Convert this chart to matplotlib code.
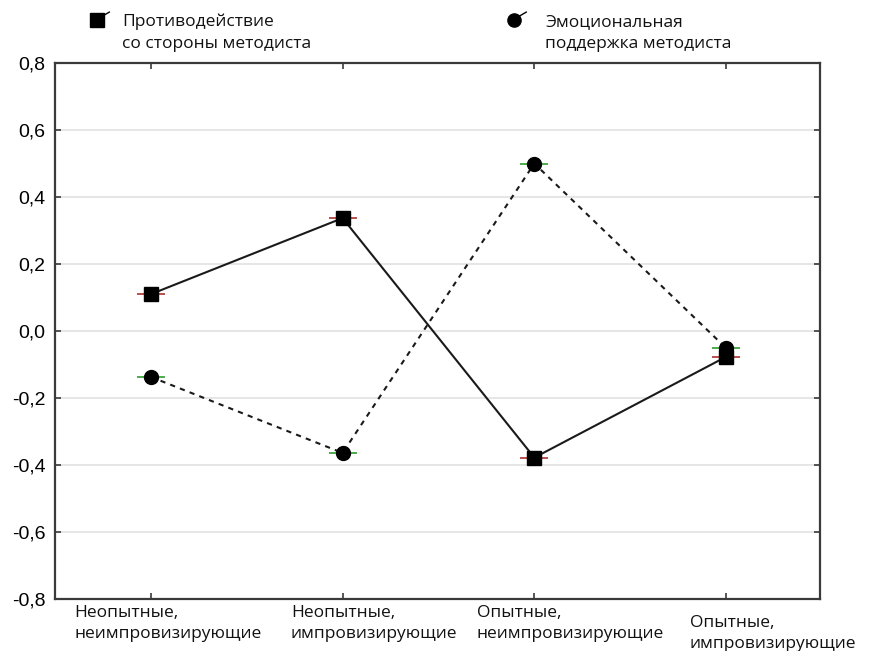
import numpy as np
import matplotlib.pyplot as plt
from matplotlib.transforms import blended_transform_factory

plt.rcParams['font.family'] = ['Open Sans', 'DejaVu Sans']

groups = ["Неопытные,\nнеимпровизирующие", "Неопытные,\nимпровизирующие",
          "Опытные,\nнеимпровизирующие", "Опытные,\nимпровизирующие"]
resistance = [0.110, 0.337, -0.378, -0.077]
support = [-0.137, -0.364, 0.500, -0.051]
series_names = ["Противодействие\nсо стороны методиста",
                "Эмоциональная\nподдержка методиста"]
yticks = [-0.8, -0.6, -0.4, -0.2, 0.0, 0.2, 0.4, 0.6, 0.8]

x = np.arange(len(groups))
spine_col = "#3a3a3a"

fig = plt.figure(figsize=(8.81, 6.51), dpi=100)
ax = fig.add_axes([0.0624, 0.0799, 0.8684, 0.8233])

for yv in yticks[1:-1]:
    ax.axhline(yv, color="#e2e2e2", lw=1.2, zorder=0)

# small horizontal whiskers behind the markers
ax.plot(x, resistance, ls="none", marker="_", ms=20, mew=1.2, color="#b03030", zorder=2)
ax.plot(x, support, ls="none", marker="_", ms=20, mew=1.2, color="#2ca02c", zorder=2)

ax.plot(x, resistance, color="#1a1a1a", lw=1.5, marker="s", ms=10,
        mfc="black", mec="black", zorder=3)
ax.plot(x, support, color="#1a1a1a", lw=1.5, ls=(0, (2.5, 2.5)), marker="o", ms=10,
        mfc="black", mec="black", zorder=3)

ax.set_xlim(-0.5, 3.49)
ax.set_ylim(-0.8, 0.8)
ax.set_yticks(yticks)
ax.set_yticklabels([f"{v:.1f}".replace(".", ",") for v in yticks], fontsize=14,
                   family=['Liberation Sans', 'DejaVu Sans'])
ax.set_xticks(x)
ax.set_xticklabels([])
ax.tick_params(axis="both", direction="in", length=4, width=1.2, color=spine_col,
               top=True, right=True, pad=7)
for s in ax.spines.values():
    s.set_color(spine_col)
    s.set_linewidth(1.6)

# category labels under the axis
trans = blended_transform_factory(ax.transData, ax.transAxes)
label_dx = [-0.40, -0.27, -0.30, -0.19]
label_y = [-0.012, -0.012, -0.012, -0.030]
for xi, lab, dx, ly in zip(x, groups, label_dx, label_y):
    ax.text(xi + dx, ly, lab, transform=trans, ha="left", va="top",
            fontsize=12.5, linespacing=1.4, color="#111111")

# legend drawn above the plot
for mx, marker, name, tx in [(0.055, "s", series_names[0], 0.088),
                             (0.600, "o", series_names[1], 0.641)]:
    ax.plot([mx], [1.080], marker=marker, ms=9.5, color="black",
            transform=ax.transAxes, clip_on=False)
    ax.plot([mx + 0.004, mx + 0.016], [1.085, 1.095], color="black", lw=1,
            transform=ax.transAxes, clip_on=False)
    ax.text(tx, 1.092, name, transform=ax.transAxes, ha="left", va="top",
            fontsize=12.5, linespacing=1.5, color="#111111")

fig.savefig("out.png", dpi=100)
